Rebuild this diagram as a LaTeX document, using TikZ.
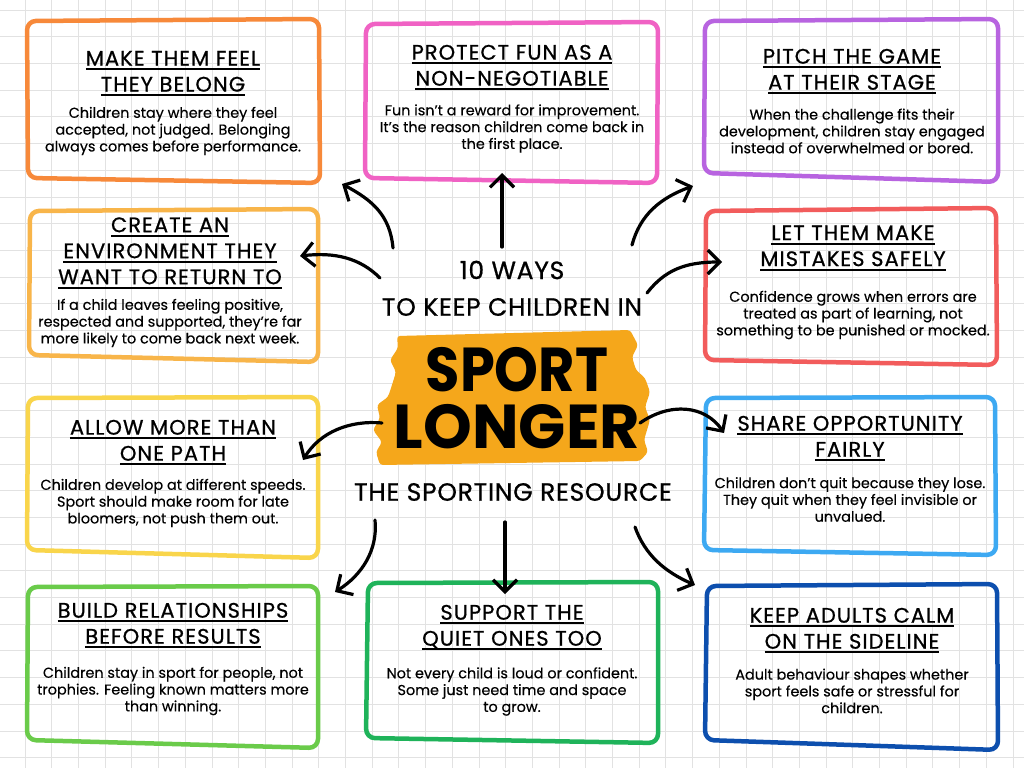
\documentclass[tikz,border=0pt]{standalone}
\usepackage{fontspec}
\setmainfont{Poppins}
\newfontfamily\titlefont[LetterSpace=5,FakeBold=0.8]{Poppins}
\newfontfamily\centrefont[LetterSpace=3,FakeBold=0.8]{Poppins}
\newfontfamily\bodyfont[FakeBold=0.3]{Poppins}
\usetikzlibrary{arrows.meta}
\definecolor{cOrange}{RGB}{247,137,58}
\definecolor{cPink}{RGB}{240,98,196}
\definecolor{cPurple}{RGB}{184,100,224}
\definecolor{cAmber}{RGB}{248,181,74}
\definecolor{cRed}{RGB}{242,92,92}
\definecolor{cYellow}{RGB}{249,213,75}
\definecolor{cSky}{RGB}{61,169,242}
\definecolor{cLime}{RGB}{106,203,74}
\definecolor{cGreen}{RGB}{31,179,90}
\definecolor{cNavy}{RGB}{13,79,174}
\definecolor{cBlob}{RGB}{245,167,27}
\definecolor{cGrid}{RGB}{226,226,226}
\newsavebox\ulbox
\newcommand\ulline[1]{\sbox\ulbox{#1}\rlap{\rule[-4.5pt]{\wd\ulbox}{1.8pt}}\usebox\ulbox}
\newcommand\sketchbox[5]{\draw[boxline,draw=#1] #2 -- #3 -- #4 -- #5 -- cycle;}
\tikzset{
  boxline/.style={line width=4.5pt,rounded corners=9pt,line join=round},
  titletext/.style={font=\titlefont\fontsize{21}{26}\selectfont,align=center,text=black,inner sep=0pt},
  bodytext/.style={font=\bodyfont\fontsize{14.4}{16.8}\selectfont,align=center,text=black,inner sep=0pt},
  centretext/.style={font=\centrefont\fontsize{25}{28}\selectfont,text=black,inner sep=0pt},
  bigtext/.style={font=\fontsize{62}{64}\selectfont\bfseries,text=black,inner sep=0pt},
  conn/.style={line width=3.2pt,line cap=round,line join=round,-{Straight Barb[length=12pt,width=24pt]}},
  gridline/.style={draw=cGrid,line width=0.7pt}
}
\begin{document}
\begin{tikzpicture}[x=1pt,y=-1pt]
\useasboundingbox (0,0) rectangle (1024,768);
\fill[white] (0,0) rectangle (1024,768);
% grid
\foreach \i in {-1,...,37} {\draw[gridline] ({25+\i*26.7},0) -- ({25+\i*26.7},768);}
\foreach \j in {0,...,28} {\draw[gridline] (0,{10+\j*26.7}) -- (1024,{10+\j*26.7});}

% boxes
\sketchbox{cOrange}{(27,21)}{(319,19)}{(320,183)}{(28,178)}
\sketchbox{cPink}{(366,24)}{(658,22)}{(657,183)}{(365,178)}
\sketchbox{cPurple}{(705,21)}{(998,19)}{(998,182)}{(704,173)}
\sketchbox{cAmber}{(30,211)}{(318,209)}{(318,362)}{(29,355)}
\sketchbox{cRed}{(706,211)}{(996,208)}{(997,365)}{(705,360)}
\sketchbox{cYellow}{(28,398)}{(318,397)}{(318,558)}{(27,550)}
\sketchbox{cSky}{(706,398)}{(995,397)}{(996,555)}{(704,550)}
\sketchbox{cLime}{(28,587)}{(318,586)}{(318,748)}{(27,740)}
\sketchbox{cGreen}{(368,583)}{(658,582)}{(658,743)}{(366,738)}
\sketchbox{cNavy}{(707,586)}{(997,584)}{(998,750)}{(705,740)}

% box texts
\node[titletext] (t1) at (173,73.5) {\ulline{MAKE THEM FEEL}\\\ulline{THEY BELONG}};
\node[bodytext] (d1) at (173,131) {Children stay where they feel\\accepted, not judged. Belonging\\always comes before performance.};
\node[titletext] (t2) at (512,67.5) {\ulline{PROTECT FUN AS A}\\\ulline{NON-NEGOTIABLE}};
\node[bodytext] (d2) at (512,128.5) {Fun isn’t a reward for improvement.\\It’s the reason children come back in\\the first place.};
\node[titletext] (t3) at (852,71.5) {\ulline{PITCH THE GAME}\\\ulline{AT THEIR STAGE}};
\node[bodytext] (d3) at (852,131) {When the challenge fits their\\development, children stay engaged\\instead of overwhelmed or bored.};
\node[titletext] (t4) at (170,253) {\ulline{CREATE AN}\\\ulline{ENVIRONMENT THEY}\\\ulline{WANT TO RETURN TO}};
\node[bodytext] (d4) at (170,323) {If a child leaves feeling positive,\\respected and supported, they’re far\\more likely to come back next week.};
\node[titletext] (t5) at (853,248) {\ulline{LET THEM MAKE}\\\ulline{MISTAKES SAFELY}};
\node[bodytext] (d5) at (853,315) {Confidence grows when errors are\\treated as part of learning, not\\something to be punished or mocked.};
\node[titletext] (t6) at (173,442.5) {\ulline{ALLOW MORE THAN}\\\ulline{ONE PATH}};
\node[bodytext] (d6) at (173,503) {Children develop at different speeds.\\Sport should make room for late\\bloomers, not push them out.};
\node[titletext] (t7) at (850,438.5) {\ulline{SHARE OPPORTUNITY}\\\ulline{FAIRLY}};
\node[bodytext] (d7) at (850,499.5) {Children don’t quit because they lose.\\They quit when they feel invisible or\\unvalued.};
\node[titletext] (t8) at (173,625.5) {\ulline{BUILD RELATIONSHIPS}\\\ulline{BEFORE RESULTS}};
\node[bodytext] (d8) at (173,691) {Children stay in sport for people, not\\trophies. Feeling known matters more\\than winning.};
\node[titletext] (t9) at (512,627.5) {\ulline{SUPPORT THE}\\\ulline{QUIET ONES TOO}};
\node[bodytext] (d9) at (512,691.5) {Not every child is loud or confident.\\Some just need time and space\\to grow.};
\node[titletext] (t10) at (852,630.5) {\ulline{KEEP ADULTS CALM}\\\ulline{ON THE SIDELINE}};
\node[bodytext] (d10) at (852,691) {Adult behaviour shapes whether\\sport feels safe or stressful for\\children.};

% centre
\fill[cBlob,rounded corners=3pt] (397,336) -- (630,330) -- (638,345) -- (632,357) -- (636,370) -- (645,378) -- (650,392) -- (645,407) -- (650,420) -- (644,440) -- (648,452) -- (640,461) -- (380,465) -- (376,452) -- (382,442) -- (373,430) -- (380,418) -- (377,405) -- (388,397) -- (392,385) -- (396,372) -- (390,360) -- (398,348) -- cycle;
\node[centretext] (ways) at (512,270) {10 WAYS};
\node[centretext] (keep) at (512,307) {TO KEEP CHILDREN IN};
\node[bigtext] (sport) at (517,370) {\scalebox{0.9}[1]{SPORT}};
\node[bigtext] (longer) at (517,427) {LONGER};
\node[centretext] (res) at (513,492) {THE SPORTING RESOURCE};

% connectors
\coordinate (s1) at (393,248); \coordinate (e1) at (342,184);
\coordinate (s2) at (502,247); \coordinate (e2) at (502,173);
\coordinate (s3) at (632,245); \coordinate (e3) at (693,186);
\coordinate (s4) at (380,278); \coordinate (e4) at (300,256);
\coordinate (s5) at (647,293); \coordinate (e5) at (722,262);
\coordinate (s6) at (382,423); \coordinate (e6) at (303,460);
\coordinate (s7) at (640,423); \coordinate (e7) at (724,433);
\coordinate (s8) at (375,520); \coordinate (e8) at (335,592);
\coordinate (s9) at (505,522); \coordinate (e9) at (505,594);
\coordinate (s10) at (635,527); \coordinate (e10) at (695,585);
\draw[conn] (s1) .. controls (390,215) and (372,200) .. (e1);
\draw[conn] (s2) -- (e2);
\draw[conn] (s3) .. controls (640,215) and (660,198) .. (e3);
\draw[conn] (s4) .. controls (360,258) and (335,252) .. (e4);
\draw[conn] (s5) .. controls (665,270) and (685,262) .. (e5);
\draw[conn] (s6) .. controls (350,420) and (320,432) .. (e6);
\draw[conn] (s7) .. controls (670,402) and (705,405) .. (e7);
\draw[conn] (s8) .. controls (378,550) and (362,575) .. (e8);
\draw[conn] (s9) -- (e9);
\draw[conn] (s10) .. controls (645,555) and (665,572) .. (e10);
\end{tikzpicture}
\end{document}
